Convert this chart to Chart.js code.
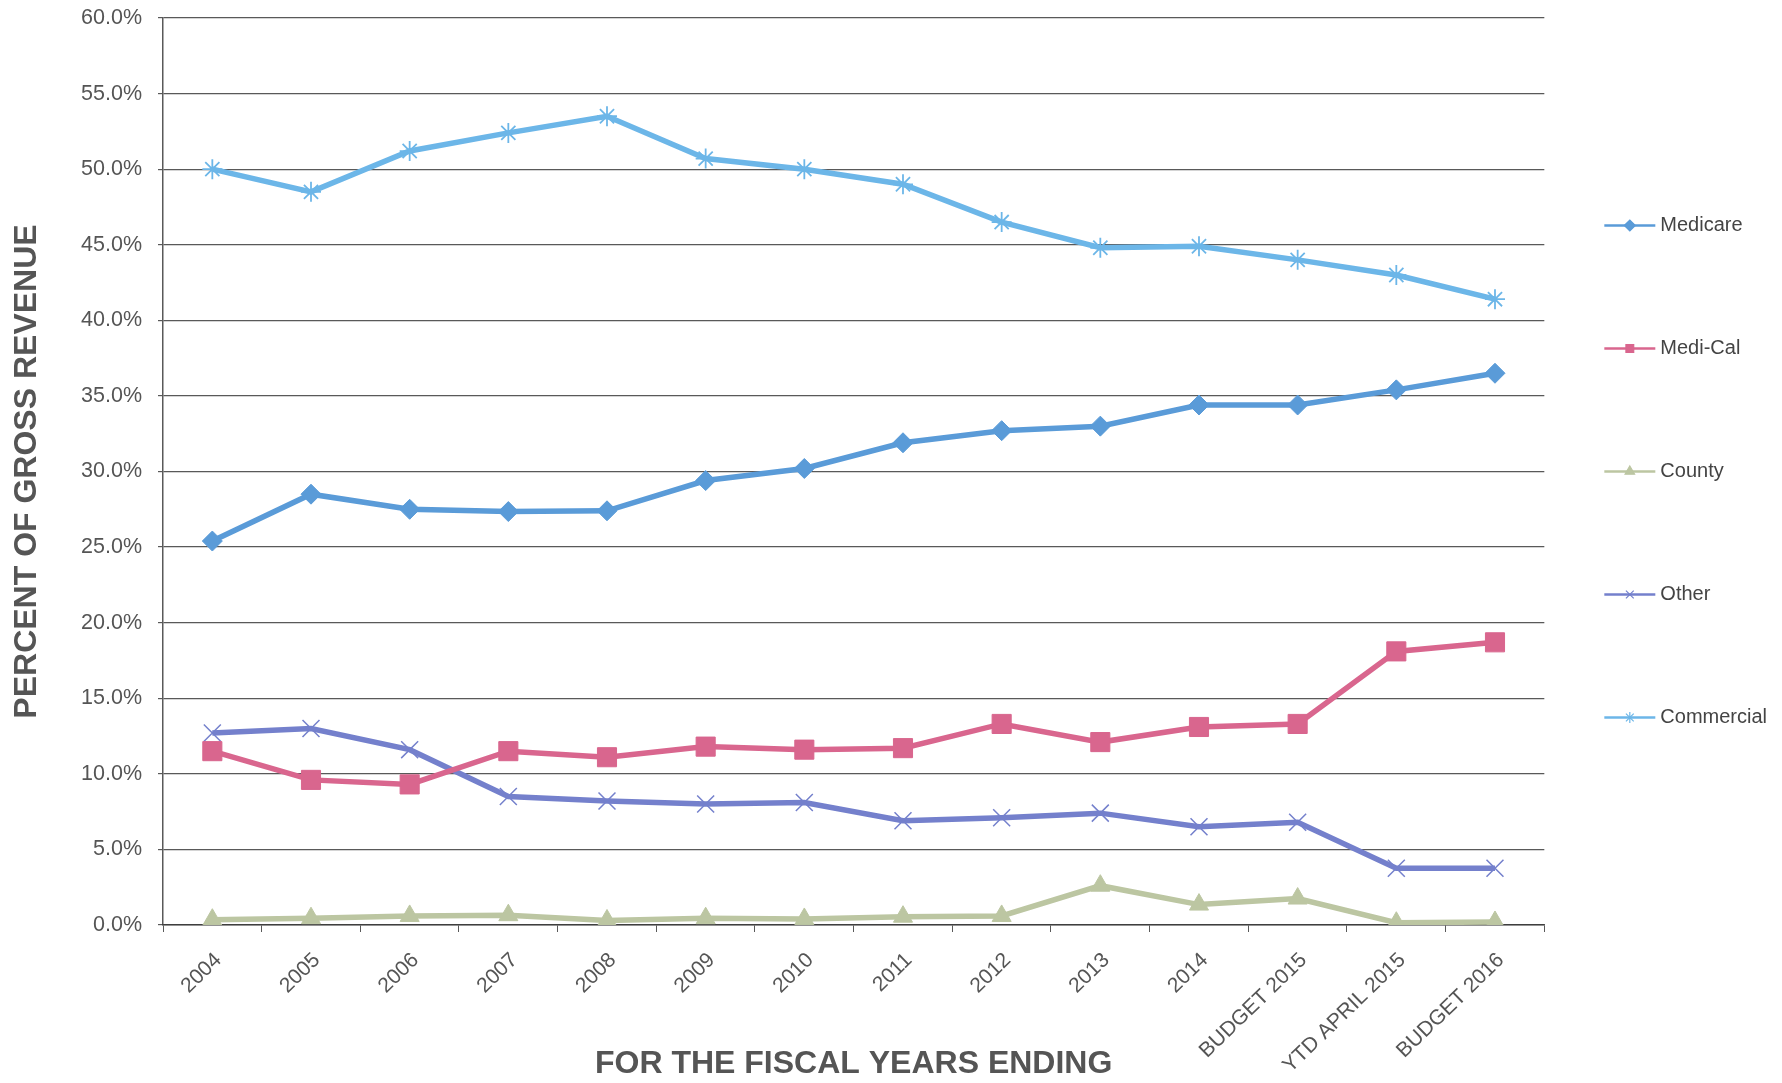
<!DOCTYPE html>
<html>
<head>
<meta charset="utf-8">
<script src="https://cdn.jsdelivr.net/npm/chart.js@4.4.1/dist/chart.umd.min.js"></script>
<style>
  html, body { margin: 0; padding: 0; background: #fff; }
  #wrap { width: 1782px; height: 1083px; }
</style>
</head>
<body>
<div id="wrap"><canvas id="payerMixChart" width="1782" height="1083"></canvas></div>
<script>
// fiscal years on the x axis
const fiscalYears = ['2004', '2005', '2006', '2007', '2008', '2009', '2010', '2011', '2012', '2013', '2014',
    'BUDGET 2015', 'YTD APRIL 2015', 'BUDGET 2016'];

// percent of gross revenue by payer
const medicare = [25.4, 28.5, 27.5, 27.35, 27.4, 29.4, 30.2, 31.9, 32.7, 33.0, 34.4, 34.4, 35.4, 36.5];
const mediCal = [11.5, 9.6, 9.3, 11.5, 11.1, 11.8, 11.6, 11.7, 13.3, 12.1, 13.1, 13.3, 18.1, 18.7];
const county = [0.35, 0.45, 0.6, 0.65, 0.3, 0.45, 0.4, 0.55, 0.6, 2.6, 1.35, 1.75, 0.15, 0.2];
const other = [12.7, 13.0, 11.6, 8.5, 8.2, 8.0, 8.1, 6.9, 7.1, 7.4, 6.5, 6.8, 3.75, 3.75];
const commercial = [50.0, 48.5, 51.2, 52.4, 53.5, 50.7, 50.0, 49.0, 46.5, 44.8, 44.9, 44.0, 43.0, 41.4];

const yMin = 0;
const yMax = 60;
const yStep = 5;

const textColor = '#555555';
const gridColor = 'rgba(60,60,60,0.85)';
const fontFamily = '"Liberation Sans", Arial, sans-serif';


function makeSeries(label, data, color, pointStyle, radius, markerWidth, filled) {
    return {
        label: label,
        data: data,
        borderColor: color,
        backgroundColor: color,
        borderWidth: 5.5,
        tension: 0,
        fill: false,
        pointStyle: pointStyle,
        pointRadius: radius,
        pointHoverRadius: radius,
        pointBorderWidth: markerWidth,
        pointBackgroundColor: filled ? color : 'rgba(0,0,0,0)',
        pointBorderColor: color
    };
}


// draws the little line + marker in front of each legend label
const legendMarkers = {
    id: 'legendMarkers',
    afterDraw(chart) {
        const legend = chart.legend;
        if (!legend || !legend.legendHitBoxes) return;
        const ctx = chart.ctx;
        legend.legendHitBoxes.forEach((box, i) => {
            const ds = chart.data.datasets[legend.legendItems[i].datasetIndex];
            const y = box.top + box.height / 2;
            const x0 = box.left;
            const x1 = box.left + 51;
            ctx.save();
            ctx.strokeStyle = ds.borderColor;
            ctx.lineWidth = 2.5;
            ctx.beginPath();
            ctx.moveTo(x0, y);
            ctx.lineTo(x1, y);
            ctx.stroke();
            ctx.fillStyle = ds.pointBackgroundColor;
            ctx.strokeStyle = ds.pointBorderColor;
            ctx.lineWidth = 1.2;
            Chart.helpers.drawPoint(ctx, {pointStyle: ds.pointStyle, radius: 5.5, borderWidth: 1.2, rotation: 0}, (x0 + x1) / 2, y);
            ctx.restore();
        });
    }
};


function generateChart() {
    const context = document.getElementById('payerMixChart').getContext('2d');
    new Chart(context, {
        type: 'line',
        data: {
            labels: fiscalYears,
            datasets: [
                makeSeries('Medicare', medicare, '#5a9bd8', 'rectRot', 10, 1, true),
                makeSeries('Medi-Cal', mediCal, '#d9668e', 'rect', 13.5, 1, true),
                makeSeries('County', county, '#bcc6a2', 'triangle', 11, 1, true),
                makeSeries('Other', other, '#7480cc', 'crossRot', 12, 1.5, false),
                makeSeries('Commercial', commercial, '#6cb6e8', 'star', 10, 1.8, false)
            ]
        },
        plugins: [legendMarkers],
        options: {
            responsive: false,
            animation: false,
            devicePixelRatio: 1,
            layout: {
                padding: {left: 0, right: 5, top: 18, bottom: 0}
            },
            plugins: {
                tooltip: {enabled: false},
                legend: {
                    position: 'right',
                    align: 'center',
                    fullSize: false,
                    labels: {
                        color: '#444444',
                        font: {family: fontFamily, size: 20},
                        boxWidth: 46,
                        boxHeight: 63,
                        padding: 60,
                        generateLabels(chart) {
                            const items = Chart.defaults.plugins.legend.labels.generateLabels(chart);
                            items.forEach(item => {
                                item.fillStyle = 'rgba(0,0,0,0)';
                                item.strokeStyle = 'rgba(0,0,0,0)';
                                item.lineWidth = 0;
                            });
                            return items;
                        }
                    }
                }
            },
            scales: {
                x: {
                    offset: true,
                    grid: {
                        offset: true,
                        drawOnChartArea: false,
                        drawTicks: true,
                        tickLength: 7,
                        color: gridColor
                    },
                    border: {display: true, color: gridColor, width: 1.5},
                    ticks: {
                        autoSkip: false,
                        maxRotation: 44,
                        minRotation: 44,
                        padding: 16,
                        labelOffset: 6,
                        color: textColor,
                        font: {family: fontFamily, size: 21}
                    },
                    title: {
                        display: true,
                        text: 'FOR THE FISCAL YEARS ENDING',
                        color: textColor,
                        font: {family: fontFamily, size: 32, weight: 'bold'},
                        padding: {top: 0, bottom: 0}
                    },
                    afterFit(scale) {
                        scale.height = 158;
                    }
                },
                y: {
                    min: yMin,
                    max: yMax,
                    grid: {
                        color: gridColor,
                        lineWidth: 1.2,
                        tickLength: 5
                    },
                    border: {display: true, color: gridColor, width: 1.5},
                    ticks: {
                        stepSize: yStep,
                        padding: 16,
                        color: textColor,
                        font: {family: fontFamily, size: 21.5},
                        callback: value => value.toFixed(1) + '%'
                    },
                    title: {
                        display: true,
                        text: 'PERCENT OF GROSS REVENUE',
                        color: textColor,
                        font: {family: fontFamily, size: 32, weight: 'bold'},
                        padding: {top: 8, bottom: 0}
                    },
                    afterFit(scale) {
                        scale.width = 163;
                        scale.paddingTop = 0;
                        scale.paddingBottom = 0;
                    }
                }
            }
        }
    });
}

generateChart();
</script>
</body>
</html>
